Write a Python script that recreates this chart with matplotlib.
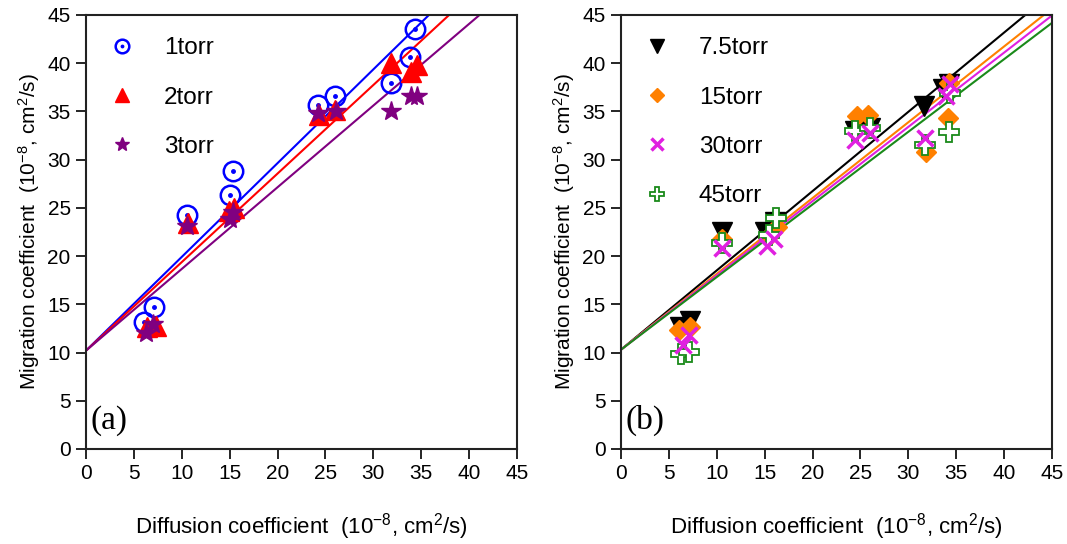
import matplotlib
matplotlib.use("Agg")
import matplotlib.pyplot as plt
import numpy as np
from matplotlib.legend_handler import HandlerTuple

plt.rcParams['font.family'] = ['Liberation Sans', 'DejaVu Sans']
plt.rcParams['mathtext.fontset'] = 'custom'
plt.rcParams['mathtext.rm'] = 'Liberation Sans'
plt.rcParams['mathtext.it'] = 'Liberation Sans'

# ---------------- Panel (a) data ----------------
a1_x = [6.1, 7.1, 10.5, 15.0, 15.3, 24.2, 26.0, 31.8, 33.8, 34.4]
a1_y = [13.2, 14.7, 24.3, 26.3, 28.8, 35.7, 36.6, 38.0, 40.6, 43.6]
a2_x = [6.4, 7.3, 10.6, 14.9, 15.5, 24.3, 26.0, 31.8, 33.9, 34.6]
a2_y = [12.6, 12.8, 23.4, 24.7, 25.0, 34.6, 35.1, 40.0, 39.1, 39.8]
a3_x = [6.3, 7.0, 10.5, 15.0, 15.3, 24.2, 26.1, 31.8, 33.9, 34.6]
a3_y = [12.0, 13.0, 23.1, 23.8, 24.6, 34.8, 35.0, 35.0, 36.6, 36.6]
a_fit_intercept = [10.2, 10.2, 10.2]
a_fit_slope = [0.972, 0.918, 0.847]
a_labels = ["1torr", "2torr", "3torr"]

# ---------------- Panel (b) data ----------------
b1_x = [6.2, 7.2, 10.5, 15.0, 16.1, 24.4, 26.0, 31.6, 33.6, 34.2]
b1_y = [12.7, 13.3, 22.5, 22.5, 23.5, 33.0, 33.3, 35.6, 37.3, 37.8]
b2_x = [6.1, 7.2, 10.5, 15.4, 16.3, 24.6, 25.8, 31.8, 34.1, 34.2]
b2_y = [12.3, 12.7, 21.8, 22.0, 23.0, 34.5, 34.6, 30.8, 34.3, 38.0]
b3_x = [6.5, 7.1, 10.5, 15.2, 16.0, 24.4, 26.0, 31.7, 33.9, 34.3]
b3_y = [10.8, 11.8, 20.8, 21.0, 21.8, 32.0, 32.8, 32.2, 36.6, 37.8]
b4_x = [6.3, 7.1, 10.5, 15.5, 16.2, 24.4, 26.0, 31.7, 34.2, 34.4]
b4_y = [9.8, 10.1, 21.4, 22.2, 24.0, 33.0, 33.3, 31.5, 32.9, 36.9]
b_fit_intercept = [10.3, 10.3, 10.3, 10.3]
b_fit_slope = [0.822, 0.786, 0.770, 0.753]
b_labels = ["7.5torr", "15torr", "30torr", "45torr"]

ticks = [0, 5, 10, 15, 20, 25, 30, 35, 40, 45]

fig = plt.figure(figsize=(10.67, 5.44), dpi=100)
axA = fig.add_axes([86/1067, 95/544, 431/1067, 434/544])
axB = fig.add_axes([621/1067, 95/544, 431/1067, 434/544])

xfit = np.array([0, 45])

leg_kw = dict(loc='upper left', bbox_to_anchor=(0.0, 1.01), frameon=False,
              prop={'family': 'Liberation Sans', 'size': 17.5}, labelspacing=1.12,
              handlelength=0.8, handletextpad=1.3, borderaxespad=0.5, borderpad=0.6,
              markerscale=0.7)

# Panel a
cols_a = ['#0000ff', '#ff0000', '#800080']
for b0, m, c in zip(a_fit_intercept, a_fit_slope, cols_a):
    axA.plot(xfit, b0 + m * xfit, color=c, lw=1.5, zorder=2)

h1o, = axA.plot(a1_x, a1_y, 'o', ms=14, mfc='none', mec=cols_a[0], mew=1.8, ls='none', zorder=3)
h1d, = axA.plot(a1_x, a1_y, 'o', ms=2.5, mfc=cols_a[0], mec=cols_a[0], ls='none', zorder=3)
h2, = axA.plot(a2_x, a2_y, '^', ms=14, color=cols_a[1], ls='none', zorder=4)
h3, = axA.plot(a3_x, a3_y, '*', ms=15, color=cols_a[2], ls='none', zorder=5)

axA.legend([(h1o, h1d), h2, h3], a_labels,
           handler_map={tuple: HandlerTuple(ndivide=1, pad=0)}, **leg_kw)
axA.text(0.01, 0.03, "(a)", transform=axA.transAxes, fontsize=24,
         family='Liberation Serif', ha='left', va='bottom')

# Panel b
cols_b = ['#000000', '#ff8000', '#e020e0', '#1a8a1a']
for b0, m, c in zip(b_fit_intercept, b_fit_slope, cols_b):
    axB.plot(xfit, b0 + m * xfit, color=c, lw=1.5, zorder=2)

g1, = axB.plot(b1_x, b1_y, 'v', ms=14, color=cols_b[0], ls='none', zorder=3)
g2, = axB.plot(b2_x, b2_y, 'D', ms=10, color=cols_b[1], ls='none', zorder=4)
g3, = axB.plot(b3_x, b3_y, 'x', ms=12, mew=2.5, color=cols_b[2], ls='none', zorder=5)
g4, = axB.plot(b4_x, b4_y, 'P', ms=15, mfc='white', mec=cols_b[3], mew=1.3, ls='none', zorder=4)

axB.legend([g1, g2, g3, g4], b_labels, **leg_kw)
axB.text(0.01, 0.03, "(b)", transform=axB.transAxes, fontsize=24,
         family='Liberation Serif', ha='left', va='bottom')

for ax in (axA, axB):
    ax.set_xlim(0, 45)
    ax.set_ylim(0, 45)
    ax.set_xticks(ticks)
    ax.set_yticks(ticks)
    ax.tick_params(direction='out', length=7, width=1.2, labelsize=15, pad=4)
    for s in ax.spines.values():
        s.set_linewidth(1.5)
        s.set_color('#222222')
    ax.set_xlabel(r"Diffusion coefficient  (10$^{-8}$, cm$^2$/s)", fontsize=16, labelpad=20)
    ax.set_ylabel(r"Migration coefficient  (10$^{-8}$, cm$^2$/s)", fontsize=15, labelpad=4)

fig.savefig("out.png", dpi=100)
